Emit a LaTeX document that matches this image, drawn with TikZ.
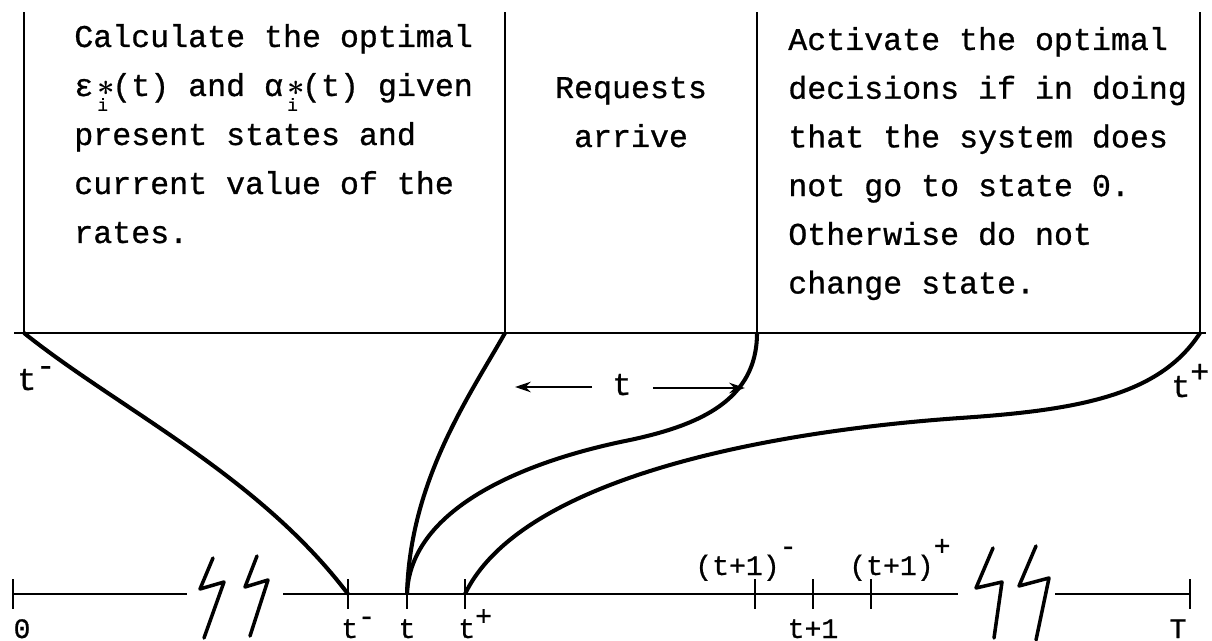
\documentclass[tikz,border=0pt]{standalone}
\usepackage{fontspec}
\setmonofont{Liberation Mono}[FakeBold=0.8]
\usetikzlibrary{arrows.meta}
% raised index, and the starred i under a letter
\newcommand{\tsup}[2][0.45em]{\raisebox{#1}{#2}}
\newcommand{\stari}{\makebox[0.6em][c]{\rlap{\fontsize{17}{17}\selectfont$\boldsymbol{\ast}$}\raisebox{-8.5pt}{\fontsize{10}{10}\selectfont i}}}
\usepackage{amsmath,amssymb}

\begin{document}
\begin{tikzpicture}[x=0.02cm, y=-0.02cm, line width=1.5pt,
  every node/.style={font=\ttfamily\fontsize{18}{18}\selectfont, inner sep=0pt},
  lab/.style={font=\ttfamily\fontsize{16}{16}\selectfont},
  curve/.style={line width=2.3pt},
  zig/.style={line width=2pt, line join=round, line cap=round},
  arr/.style={line width=1.6pt, -{Stealth[length=9pt,width=6pt]}}]
\useasboundingbox (0,0) rectangle (1212,641);
% boxes on top
\coordinate (c0) at (24,333);
\coordinate (c1) at (505,333);
\coordinate (c2) at (757,333);
\coordinate (c3) at (1200,333);
\draw (14,333) -- (1206,333);
\foreach \k in {0,...,3} \draw (c\k) -- ++(0,-321);
\foreach \txt [count=\k from 0] in {Calculate the optimal, {ε\stari(t) and α\stari(t) given}, present states and, current value of the, rates.}
  \node[anchor=base west] (calc\k) at (73,{47+49*\k}) {\txt};
\node[anchor=base] (req1) at (631,98) {Requests};
\node[anchor=base] (req2) at (631,147) {arrive};
\foreach \txt [count=\k from 0] in {Activate the optimal, decisions if in doing, that the system does, not go to state 0., Otherwise do not, change state.}
  \node[anchor=base west] (act\k) at (787,{50+48.7*\k}) {\txt};
% time axis
\coordinate (z0) at (13,594);
\coordinate (tm) at (348,594);
\coordinate (tt) at (407,594);
\coordinate (tp) at (465,594);
\coordinate (um) at (755,594);
\coordinate (uu) at (813,594);
\coordinate (up) at (871,594);
\coordinate (zT) at (1190,594);
\draw (z0) -- (187,594);
\draw (283,594) -- (958,594);
\draw (1055,594) -- (zT);
\foreach \p in {z0,tm,tt,tp,um,uu,up,zT} \draw (\p) ++(0,-15) -- ++(0,30);
\draw[zig] (213,558) -- (200,589) -- (224,582) -- (204,638);
\draw[zig] (257,556) -- (245,587) -- (268,580) -- (250,636);
\draw[zig] (993,548) -- (976,588) -- (1002,582) -- (994,638);
\draw[zig] (1036,546) -- (1019,586) -- (1049,578) -- (1036,640);
% mapping of the instants
\draw[curve] (c0) .. controls (119,409) and (258,475) .. (tm);
\draw[curve] (c1) .. controls (470,395) and (410,480) .. (tt);
\draw[curve] (c2) .. controls (757,400) and (700,425) .. (630,440) .. controls (520,462) and (410,510) .. (tt);
\draw[curve] (c3) .. controls (1160,395) and (1080,410) .. (960,418) .. controls (760,432) and (520,480) .. (tp);
\node[anchor=base west] (tml) at (16,390) {t\tsup{-}};
\node[anchor=base west] (tpl) at (1170,397) {t\tsup[0.47em]{+}};
\node[anchor=base] (span) at (622,395) {t};
\coordinate (al) at (515,387);
\coordinate (ar) at (745,388);
\draw[arr] ([xshift=-0.38cm]span.west |- al) -- (al);
\draw[arr] ([xshift=0.4cm]span.east |- ar) -- (ar);
% labels of the axis
\node[lab, anchor=base] (l0) at (22,638) {0};
\node[lab, anchor=base west] (ltm) at (340,638) {t\tsup{-}};
\node[lab, anchor=base] (ltt) at (407,638) {t};
\node[lab, anchor=base west] (ltp) at (457,638) {t\tsup{+}};
\node[lab, anchor=base west] (lum) at (694,575) {(t+1)\tsup[0.7em]{-}};
\node[lab, anchor=base] (luu) at (813,638) {t+1};
\node[lab, anchor=base west] (lup) at (848,575) {(t+1)\tsup[0.7em]{+}};
\node[lab, anchor=base] (lT) at (1178,638) {T};
\end{tikzpicture}
\end{document}
